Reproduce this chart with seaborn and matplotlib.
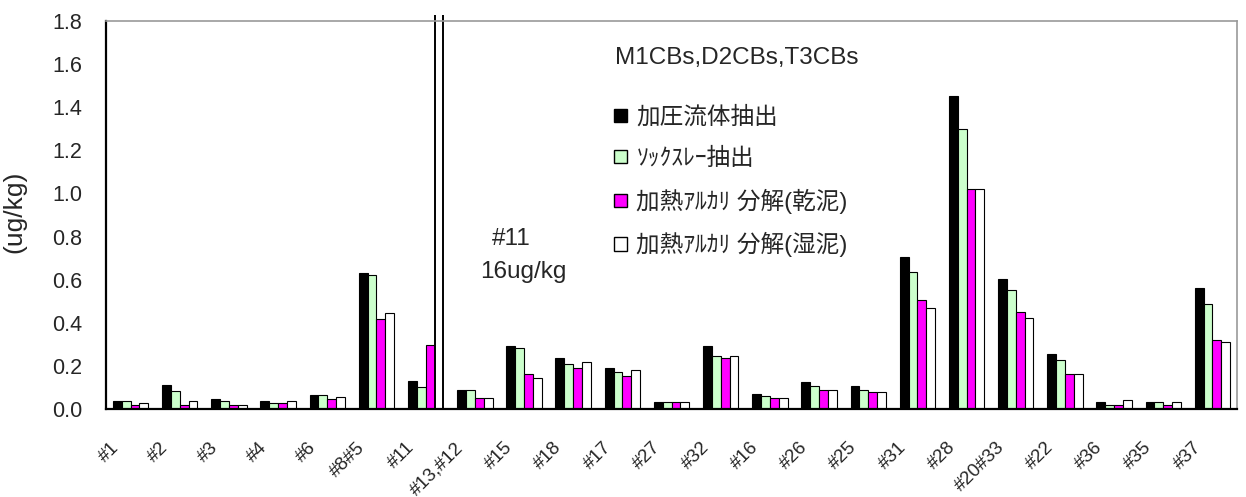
import numpy as np
import pandas as pd
import matplotlib
matplotlib.use("Agg")
import matplotlib.pyplot as plt
from matplotlib import font_manager
from matplotlib.patches import Patch
from matplotlib.transforms import Bbox, TransformedBbox, ScaledTranslation
import seaborn as sns

# PCB congeners (mono-, di-, tri-chlorinated) on the x axis
congeners = ["#1", "#2", "#3", "#4", "#6", "#8#5", "#11", "#13,#12", "#15", "#18",
             "#17", "#27", "#32", "#16", "#26", "#25", "#31", "#28", "#20#33",
             "#22", "#36", "#35", "#37"]

methods = ["加圧流体抽出", "ｿｯｸｽﾚｰ抽出", "加熱ｱﾙｶﾘ 分解(乾泥)", "加熱ｱﾙｶﾘ 分解(湿泥)"]

# concentrations in ug/kg, one list per extraction method
pressurized_fluid = [0.039, 0.113, 0.048, 0.039, 0.066, 0.632, 0.131, 0.090, 0.294, 0.238,
                     0.192, 0.034, 0.294, 0.071, 0.127, 0.108, 0.703, 1.450, 0.601,
                     0.257, 0.034, 0.034, 0.563]
soxhlet = [0.039, 0.082, 0.036, 0.028, 0.063, 0.621, 0.102, 0.090, 0.283, 0.209,
           0.172, 0.031, 0.245, 0.060, 0.105, 0.088, 0.635, 1.300, 0.553,
           0.228, 0.020, 0.031, 0.487]
alkali_dry = [0.019, 0.019, 0.019, 0.028, 0.046, 0.417, 0.297, 0.051, 0.163, 0.190,
              0.153, 0.031, 0.237, 0.051, 0.088, 0.077, 0.506, 1.022, 0.450,
              0.161, 0.020, 0.020, 0.320]
alkali_wet = [0.028, 0.036, 0.017, 0.036, 0.056, 0.445, 16.0, 0.051, 0.144, 0.220,
              0.181, 0.031, 0.246, 0.051, 0.088, 0.077, 0.469, 1.022, 0.422,
              0.161, 0.043, 0.031, 0.311]

y_ticks = [0.0, 0.2, 0.4, 0.6, 0.8, 1.0, 1.2, 1.4, 1.6, 1.8]
colors = ["#000000", "#CCFFCC", "#FF00FF", "#FFFFFF"]

series = [pressurized_fluid, soxhlet, alkali_dry, alkali_wet]
df = pd.DataFrame({
    "congener": np.tile(congeners, len(methods)),
    "method": np.repeat(methods, len(congeners)),
    "value": np.concatenate(series),
})

sns.set_style("white")
plt.rcParams["font.family"] = ["Liberation Sans", "Noto Sans CJK JP"]


def pick_font(name, fallback):
    try:
        font_manager.findfont(name, fallback_to_default=False)
        return name
    except Exception:
        return fallback


narrow = pick_font("Liberation Sans Narrow", "Liberation Sans")

fig = plt.figure(figsize=(12.46, 4.97), dpi=100)
ax = fig.add_axes([0.0851, 0.1771, 0.9077, 0.7806])

sns.barplot(data=df, x="congener", y="value", hue="method", hue_order=methods,
            palette=colors, saturation=1, width=0.72, edgecolor="black",
            linewidth=0.8, errorbar=None, legend=False, ax=ax)

ax.set_ylim(0, 1.8)
ax.set_xlim(-0.5, len(congeners) - 0.5)

# the off-scale #11 bar pokes slightly above the frame
big = ax.containers[3][congeners.index("#11")]
big.set_clip_path(None)
big.set_clip_box(TransformedBbox(Bbox([[0, 0], [1, 1.016]]), ax.transAxes))
big.set_linewidth(1.4)

# axes frame
for side in ["left", "bottom"]:
    ax.spines[side].set_color("black")
    ax.spines[side].set_linewidth(1.6)
for side in ["top", "right"]:
    ax.spines[side].set_color("#999999")
    ax.spines[side].set_linewidth(1.2)

ax.set_yticks(y_ticks)
ax.set_yticklabels([f"{v:.1f}" for v in y_ticks], fontsize=15.5)
ax.tick_params(axis="y", direction="in", length=6, width=1, color="black", pad=17)

ax.set_xticks(np.arange(-0.5, len(congeners), 1), minor=True)
ax.tick_params(axis="x", which="minor", direction="in", length=3.5, width=1, color="black")
ax.tick_params(axis="x", which="major", length=0, pad=26)
ax.set_xticks(range(len(congeners)))
ax.set_xticklabels(congeners, rotation=45, ha="right", va="center",
                   rotation_mode="anchor", fontsize=13.5, family=narrow)
shift = ScaledTranslation(-14 / 100, 0, fig.dpi_scale_trans)
for lab in ax.get_xticklabels():
    lab.set_transform(lab.get_transform() + shift)

ax.set_xlabel("")
ax.set_ylabel("(ug/kg)", fontsize=19)
ax.yaxis.set_label_coords(-0.070, 0.508)

# annotation for the off-scale value
ax.text(7.35, 0.79, "#11", fontsize=17.5, va="center", ha="left")
ax.text(7.1, 0.635, "16ug/kg", fontsize=17.5, va="center", ha="left")

ax.text(9.85, 1.628, "M1CBs,D2CBs,T3CBs", fontsize=17.5, va="center", ha="left")

handles = [Patch(facecolor=c, edgecolor="black", linewidth=1.0) for c in colors]
ax.legend(handles, methods, loc="center left", bbox_to_anchor=(0.449, 0.585),
          frameon=False, fontsize=17, handlelength=0.55, handleheight=0.5,
          handletextpad=0.4, labelspacing=0.79, borderpad=0, borderaxespad=0)

fig.savefig("out.png", dpi=100)
